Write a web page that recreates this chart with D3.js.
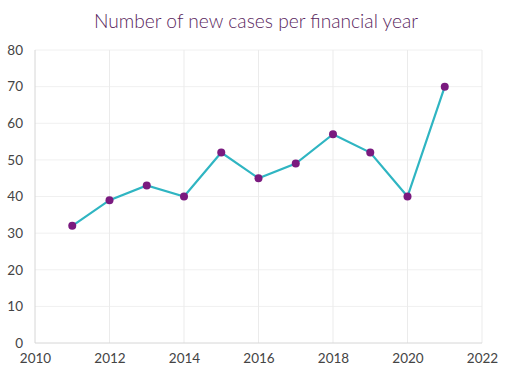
<!DOCTYPE html>
<html><head><meta charset="utf-8">
<script src="https://cdn.jsdelivr.net/npm/d3@7"></script>
<style>body{margin:0;background:#fff}svg{display:block}</style>
</head><body>
<script>
const years = [2011,2012,2013,2014,2015,2016,2017,2018,2019,2020,2021];
const cases = [32,39,43,40,52,45,49,57,52,40,70];
const xTicks = [2010,2012,2014,2016,2018,2020,2022];
const yTicks = [0,10,20,30,40,50,60,70,80];
const title = "Number of new cases per financial year";

const W=512,H=375, m={l:35,r:30,t:50,b:32};
const svg=d3.select("body").append("svg").attr("width",W).attr("height",H);
const x=d3.scaleLinear().domain([2010,2022]).range([m.l,W-m.r]);
const y=d3.scaleLinear().domain([0,80]).range([H-m.b,m.t]);

svg.append("text").attr("x",256).attr("y",28).attr("text-anchor","middle")
  .attr("font-family","Lato").attr("font-weight",300).attr("font-size",19.2)
  .attr("fill","#5a1f5e").text(title);

const g=svg.append("g");
g.selectAll(".hg").data(yTicks.filter(d=>d>0)).join("line")
  .attr("x1",x(2010)).attr("x2",x(2022)).attr("y1",d=>y(d)).attr("y2",d=>y(d))
  .attr("stroke","#f0f0f0").attr("stroke-width",1);
g.selectAll(".vg").data(xTicks.filter(d=>d>2010)).join("line")
  .attr("x1",d=>x(d)).attr("x2",d=>x(d)).attr("y1",y(0)).attr("y2",y(80))
  .attr("stroke","#ebebeb").attr("stroke-width",1);
g.append("line").attr("x1",x(2010)).attr("x2",x(2010)).attr("y1",y(0)).attr("y2",y(80)).attr("stroke","#d6d6d6");
g.append("line").attr("x1",x(2010)).attr("x2",x(2022)).attr("y1",y(0)).attr("y2",y(0)).attr("stroke","#d6d6d6");

const yAxis=svg.append("g").attr("transform",`translate(${x(2010)},0)`)
  .call(d3.axisLeft(y).tickValues(yTicks).tickSize(0).tickPadding(12).tickFormat(d3.format("d")));
const xAxis=svg.append("g").attr("transform",`translate(0,${y(0)})`)
  .call(d3.axisBottom(x).tickValues(xTicks).tickSize(0).tickPadding(10).tickFormat(d3.format("d")));
[yAxis,xAxis].forEach(a=>{a.select(".domain").remove();
  a.selectAll("text").attr("font-family","Lato").attr("font-size",13.5).attr("fill","#444");});

const data=years.map((d,i)=>({yr:d,v:cases[i]}));
svg.append("path").datum(data).attr("fill","none").attr("stroke","#2fb5c2").attr("stroke-width",2.2)
  .attr("d",d3.line().x(d=>x(d.yr)).y(d=>y(d.v)));
svg.selectAll(".pt").data(data).join("circle").attr("cx",d=>x(d.yr)).attr("cy",d=>y(d.v))
  .attr("r",4).attr("fill","#7a1a7f");
</script>
</body></html>
